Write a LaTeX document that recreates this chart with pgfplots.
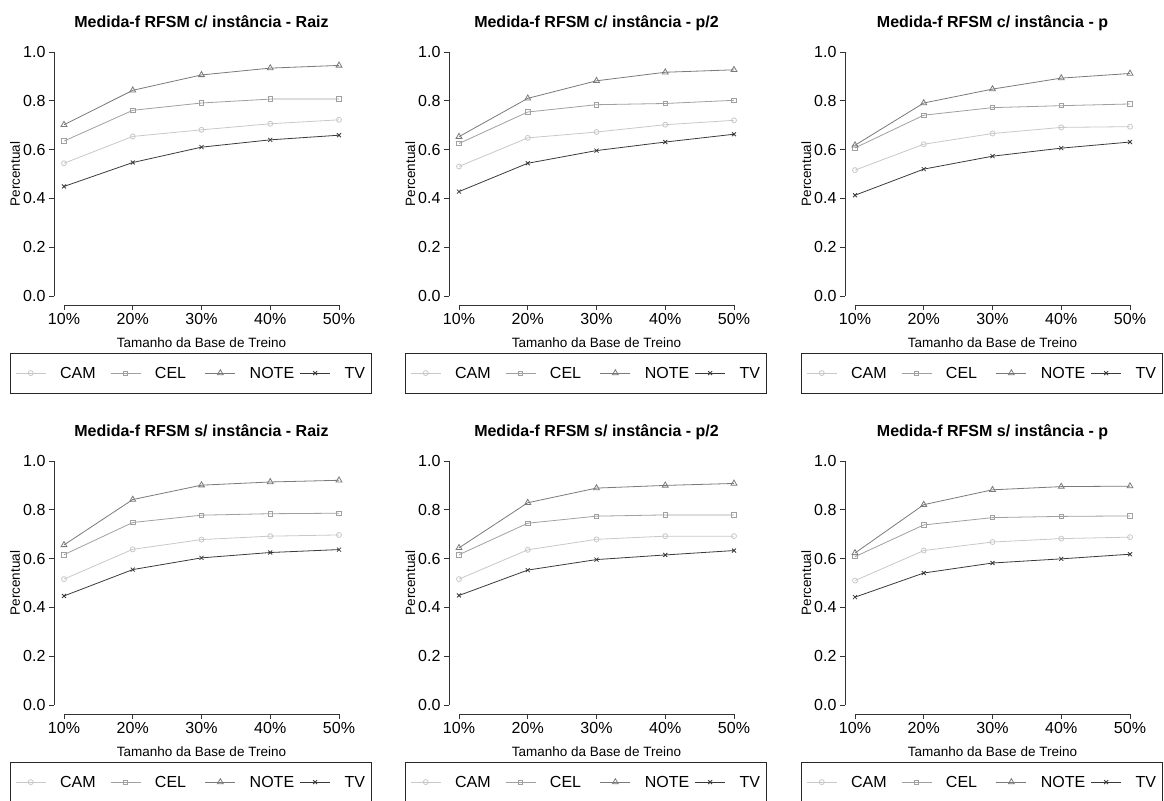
\documentclass[border=0pt]{standalone}
\usepackage{pgfplots}
\usepackage{pgfplotstable}
\usepackage{fontspec}
\setmainfont{Liberation Sans}
\pgfplotsset{compat=1.18}

\definecolor{camc}{HTML}{C8C8C8}
\definecolor{celc}{HTML}{A0A0A0}
\definecolor{notec}{HTML}{7A7A7A}
\definecolor{tvc}{HTML}{3A3A3A}

% c/ instancia - Raiz
\pgfplotstableread{
x CAM CEL NOTE TV
10 0.544 0.635 0.702 0.449
20 0.654 0.761 0.843 0.547
30 0.681 0.791 0.906 0.610
40 0.706 0.807 0.934 0.640
50 0.722 0.807 0.945 0.659
}\tA
% c/ instancia - p/2
\pgfplotstableread{
x CAM CEL NOTE TV
10 0.531 0.625 0.653 0.428
20 0.648 0.754 0.810 0.544
30 0.672 0.784 0.882 0.596
40 0.702 0.789 0.917 0.631
50 0.720 0.802 0.927 0.663
}\tB
% c/ instancia - p
\pgfplotstableread{
x CAM CEL NOTE TV
10 0.516 0.607 0.618 0.413
20 0.622 0.741 0.791 0.520
30 0.666 0.772 0.848 0.573
40 0.691 0.780 0.893 0.606
50 0.694 0.787 0.912 0.631
}\tC
% s/ instancia - Raiz
\pgfplotstableread{
x CAM CEL NOTE TV
10 0.516 0.616 0.656 0.447
20 0.638 0.748 0.842 0.555
30 0.678 0.778 0.901 0.603
40 0.692 0.784 0.914 0.625
50 0.697 0.786 0.921 0.637
}\tD
% s/ instancia - p/2
\pgfplotstableread{
x CAM CEL NOTE TV
10 0.516 0.616 0.644 0.449
20 0.636 0.745 0.829 0.553
30 0.679 0.774 0.889 0.596
40 0.692 0.779 0.900 0.615
50 0.692 0.779 0.908 0.633
}\tE
% s/ instancia - p
\pgfplotstableread{
x CAM CEL NOTE TV
10 0.510 0.608 0.623 0.442
20 0.633 0.738 0.821 0.541
30 0.668 0.768 0.882 0.582
40 0.682 0.773 0.895 0.599
50 0.688 0.775 0.897 0.618
}\tF

\pgfplotsset{panel/.style={
  scale only axis, width=275bp, height=244bp,
  xmin=10, xmax=50, ymin=0, ymax=1, clip=false,
  anchor=south west,
  axis lines=left,
  axis line style={-, draw=black!80, line width=0.7bp},
  axis x line shift=9bp, axis y line shift=10bp,
  tick align=outside, major tick length=5bp,
  tick style={black!80, line width=0.7bp},
  xtick={10,20,30,40,50}, xticklabels={10\%,20\%,30\%,40\%,50\%},
  ytick={0,0.2,0.4,0.6,0.8,1}, yticklabels={0.0,0.2,0.4,0.6,0.8,1.0},
  ticklabel style={font=\fontsize{16bp}{19bp}\selectfont},
  /pgf/number format/assume math mode=true,
  title style={font=\bfseries\fontsize{16bp}{19bp}\selectfont,
    at={(axis description cs:0.5,1)}, anchor=base, yshift=19bp},
  xlabel={Tamanho da Base de Treino}, ylabel={Percentual},
  label style={font=\fontsize{13.5bp}{16bp}\selectfont},
  xlabel style={at={(axis description cs:0.5,0)}, anchor=base, yshift=-51bp},
  ylabel style={at={(axis description cs:0,0.5)}, anchor=base, yshift=44bp},
  legend columns=4,
  legend style={at={(axis description cs:0,0)}, anchor=north west,
    xshift=-54bp, yshift=-57bp, draw=black!85, line width=0.7bp,
    inner xsep=5bp, inner ysep=14bp, column sep=0pt,
    nodes={inner sep=0pt, text height=11.5bp, text depth=0pt,
      font=\fontsize{16bp}{19bp}\selectfont}},
  legend image code/.code={\draw[mark repeat=2,mark phase=2]
    plot coordinates {(0bp,0bp) (15bp,0bp) (30bp,0bp)};},
  every axis plot/.append style={line width=0.8bp},
}}

\newcommand{\panelplots}[1]{%
  \addplot[color=camc, mark=o, mark size=2.5bp] table[x=x,y=CAM]{#1};
  \addlegendentry{\makebox[64bp][l]{\hspace{14bp}CAM}}
  \addplot[color=celc, mark=square, mark size=2.2bp] table[x=x,y=CEL]{#1};
  \addlegendentry{\makebox[64bp][l]{\hspace{14bp}CEL}}
  \addplot[color=notec, mark=triangle, mark size=3.4bp] table[x=x,y=NOTE]{#1};
  \addlegendentry{\makebox[64bp][l]{\hspace{14bp}NOTE}}
  \addplot[color=tvc, mark=x, mark size=2.8bp] table[x=x,y=TV]{#1};
  \addlegendentry{\makebox[36bp][l]{\hspace{14bp}TV}}
}

\begin{document}
\begin{tikzpicture}
\path[use as bounding box] (0,0) rectangle (1164bp,-801bp);
\begin{axis}[panel, at={(64bp,-296bp)}, title={Medida-f RFSM c/ instância - Raiz}]
\panelplots{\tA}
\end{axis}
\begin{axis}[panel, at={(459bp,-296bp)}, title={Medida-f RFSM c/ instância - p/2}]
\panelplots{\tB}
\end{axis}
\begin{axis}[panel, at={(855bp,-296bp)}, title={Medida-f RFSM c/ instância - p}]
\panelplots{\tC}
\end{axis}
\begin{axis}[panel, at={(64bp,-705bp)}, title={Medida-f RFSM s/ instância - Raiz}]
\panelplots{\tD}
\end{axis}
\begin{axis}[panel, at={(459bp,-705bp)}, title={Medida-f RFSM s/ instância - p/2}]
\panelplots{\tE}
\end{axis}
\begin{axis}[panel, at={(855bp,-705bp)}, title={Medida-f RFSM s/ instância - p}]
\panelplots{\tF}
\end{axis}
\end{tikzpicture}
\end{document}
